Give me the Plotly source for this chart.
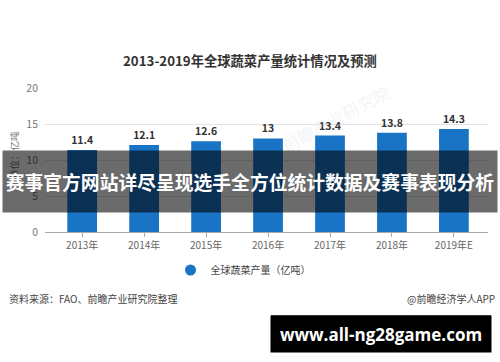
import plotly.graph_objects as go

years = ["2013年", "2014年", "2015年", "2016年", "2017年", "2018年", "2019年E"]
values = [11.4, 12.1, 12.6, 13, 13.4, 13.8, 14.3]
value_labels = ["11.4", "12.1", "12.6", "13", "13.4", "13.8", "14.3"]
series_name = "全球蔬菜产量（亿吨）"
y_ticks = [0, 5, 10, 15, 20]

title_text = "2013-2019年全球蔬菜产量统计情况及预测"
source_text = "资料来源：FAO、前瞻产业研究院整理"
credit_text = "@前瞻经济学人APP"
banner_text = "赛事官方网站详尽呈现选手全方位统计数据及赛事表现分析"
site_text = "www.all-ng28game.com"

FONT = "Noto Sans CJK SC, Microsoft YaHei, sans-serif"
BLUE = "#1a74c6"

# plot area in pixels: x 45..488, y 88..232
L, R, T, B = 45, 12, 88, 130
PW, PH = 500 - L - R, 362 - T - B


def px(x):
    return (x - L) / PW


def py(y):
    return (T + PH - y) / PH


fig = go.Figure()
fig.add_trace(go.Bar(
    x=list(range(len(years))), y=values, width=0.48,
    marker=dict(color=BLUE, line=dict(width=0)),
    text=value_labels, textposition="outside", cliponaxis=False,
    textfont=dict(family=FONT, size=10.5, color="#333333"),
    texttemplate="<b>%{text}</b>",
    showlegend=False,
))
fig.add_trace(go.Scatter(
    x=[None], y=[None], mode="markers", name=series_name,
    marker=dict(symbol="circle", size=11, color=BLUE),
))

annotations = [
    dict(text="<b>" + title_text + "</b>", x=px(250), y=py(60), xref="paper", yref="paper",
         showarrow=False, font=dict(family=FONT, size=13.3, color="#333333"),
         xanchor="center", yanchor="middle"),
    dict(text="单位：亿吨", x=px(14), y=py(155), xref="paper", yref="paper",
         showarrow=False, textangle=-90, font=dict(family=FONT, size=9.5, color="#777777"),
         xanchor="center", yanchor="middle"),
    dict(text=source_text, x=px(7), y=py(298), xref="paper", yref="paper",
         showarrow=False, font=dict(family=FONT, size=10, color="#444444"),
         xanchor="left", yanchor="middle"),
    dict(text=credit_text, x=px(497), y=py(298), xref="paper", yref="paper",
         showarrow=False, font=dict(family=FONT, size=10, color="#444444"),
         xanchor="right", yanchor="middle"),
    dict(text="前瞻产业研究院", x=px(335), y=py(118), xref="paper", yref="paper",
         showarrow=False, textangle=-28, font=dict(family=FONT, size=17, color="rgba(200,205,215,0.22)"),
         xanchor="center", yanchor="middle"),
    dict(text="<b>" + banner_text + "</b>", x=px(250), y=py(181.5), xref="paper", yref="paper",
         showarrow=False, width=494, height=61, bgcolor="rgba(0,0,0,0.58)", borderpad=0,
         font=dict(family=FONT, size=18.8, color="white"),
         xanchor="center", yanchor="middle"),
    dict(text="<b>" + site_text + "</b>", x=px(381), y=py(334), xref="paper", yref="paper",
         showarrow=False, width=220, height=36, bgcolor="black", borderpad=0,
         font=dict(family="Open Sans, DejaVu Sans, sans-serif", size=17, color="white"),
         xanchor="center", yanchor="middle"),
]

shapes = [
    dict(type="rect", xref="paper", yref="paper", x0=px(271), x1=px(491), y0=py(317), y1=py(315),
         fillcolor="#666666", line=dict(width=0), layer="above"),
]

fig.update_layout(
    width=500, height=362,
    margin=dict(l=L, r=R, t=T, b=B),
    paper_bgcolor="white", plot_bgcolor="white",
    font=dict(family=FONT, color="#666666"),
    xaxis=dict(
        range=[-0.6, 6.55], tickmode="array", tickvals=list(range(len(years))), ticktext=years,
        showgrid=False, zeroline=False, showline=True, linecolor="#aaaaaa", linewidth=1,
        ticks="outside", ticklen=4, tickcolor="#aaaaaa",
        tickfont=dict(family=FONT, size=10, color="#666666"),
    ),
    yaxis=dict(
        range=[0, 20], tickmode="array", tickvals=y_ticks,
        showgrid=True, gridcolor="#e3e3e3", gridwidth=1, zeroline=False, showline=False,
        tickfont=dict(family=FONT, size=10.5, color="#777777"), ticks="", ticklabelstandoff=6,
    ),
    legend=dict(orientation="h", x=px(243), xanchor="center", y=py(270), yanchor="middle",
                font=dict(family=FONT, size=10, color="#444444"), bgcolor="rgba(0,0,0,0)"),
    annotations=annotations,
    shapes=shapes,
    bargap=0.5,
)

fig.write_html("out.html", config={"displayModeBar": False},
               post_script="document.body.style.margin='0';document.body.style.overflow='hidden';")
